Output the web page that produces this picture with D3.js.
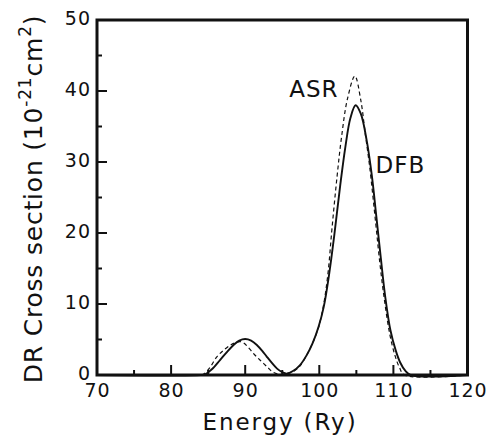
<!DOCTYPE html>
<html>
<head>
<meta charset="utf-8">
<script src="https://cdn.jsdelivr.net/npm/d3@7"></script>
<style>
  body { margin: 0; background: #fff; }
  text { font-family: "DejaVu Sans", sans-serif; fill: #111; }
</style>
</head>
<body>
<div id="chart"></div>
<script>
// Data (energy in Ry, cross section in 1e-21 cm^2)
const energyDFB = [70, 84, 84.6, 85.5, 86.6, 87.5, 88.4, 89.2, 90, 90.8, 91.6, 92.3, 92.9, 93.6, 94.3, 95, 95.6,
  96.5, 97.4, 98.3, 99.1, 99.9, 100.6, 101.3, 102.0, 102.8, 103.5, 104.2, 104.9, 105.6, 106.4, 107.1, 107.7,
  108.3, 108.9, 109.6, 110.3, 110.9, 111.6, 112.3, 120];
const crossDFB = [0, 0, 0.1, 0.8, 2.1, 3.2, 4.2, 4.85, 5.07, 4.85, 4.2, 3.4, 2.6, 1.7, 0.9, 0.4, 0.2,
  0.6, 1.4, 2.8, 4.5, 6.8, 9.6, 14.0, 19.5, 26.5, 32.0, 36.2, 38.0, 36.8, 33.0, 28.0, 22.3,
  16.5, 11.0, 6.3, 3.5, 1.8, 0.6, 0, 0];

const energyASR = [70, 84, 84.3, 85.2, 86.2, 87.1, 88, 88.7, 89.3, 89.8, 90.4, 91.1, 91.8, 92.5, 93.1, 93.6, 94.2,
  94.9, 95.6, 96.5, 97.4, 98.3, 99.1, 99.9, 100.6, 101.2, 101.7, 102.4, 103.0, 103.8, 104.8, 105.6, 106.2,
  106.8, 107.6, 108.2, 108.8, 109.5, 110.2, 110.8, 111.5, 120];
const crossASR = [0, 0, 0.05, 1.0, 2.6, 3.5, 4.2, 4.55, 4.7, 4.5, 3.9, 3.05, 2.3, 1.6, 1.0, 0.5, 0.2,
  0.1, 0.2, 0.5, 1.3, 2.8, 4.5, 6.7, 10.0, 14.6, 20.5, 28.0, 33.5, 38.9, 42.1, 38.7, 34.0,
  29.3, 21.5, 15.5, 10.5, 5.8, 2.8, 1.1, 0, 0];

const xMajor = [70, 80, 90, 100, 110, 120];
const xMinor = [75, 85, 95, 105, 115];
const yMajor = [0, 10, 20, 30, 40, 50];
const yMinor = [5, 15, 25, 35, 45];

const width = 493;
const height = 437;
const margin = { top: 20, right: 25.5, bottom: 62, left: 97 };

const svg = d3.select("#chart")
  .append("svg")
  .attr("width", width)
  .attr("height", height);

const x = d3.scaleLinear().domain([70, 120]).range([margin.left, width - margin.right]);
const y = d3.scaleLinear().domain([0, 50]).range([height - margin.bottom, margin.top]);

// Tick labels via d3 axes (tick lines drawn separately below)
svg.append("g")
  .attr("transform", `translate(0, ${y(0)})`)
  .call(d3.axisBottom(x).tickValues(xMajor).tickSize(0).tickPadding(9))
  .call((g) => g.select(".domain").remove())
  .call((g) => g.selectAll(".tick text")
    .attr("font-size", 19)
    .attr("letter-spacing", 1)
    .style("font-family", "DejaVu Sans")
    .attr("fill", "#111"));

svg.append("g")
  .attr("transform", `translate(${x(70)}, 0)`)
  .call(d3.axisLeft(y).tickValues(yMajor).tickSize(0).tickPadding(6))
  .call((g) => g.select(".domain").remove())
  .call((g) => g.selectAll(".tick text")
    .attr("font-size", 19)
    .attr("letter-spacing", 1)
    .attr("dy", "0.22em")
    .style("font-family", "DejaVu Sans")
    .attr("fill", "#111"));

// Curves
const line = d3.line()
  .x((d) => x(d[0]))
  .y((d) => y(d[1]))
  .curve(d3.curveCatmullRom.alpha(0.5));

svg.append("path")
  .datum(energyASR.map((e, i) => [e, crossASR[i]]))
  .attr("d", line)
  .attr("fill", "none")
  .attr("stroke", "#111")
  .attr("stroke-width", 1.2)
  .attr("stroke-dasharray", "4,3");

svg.append("path")
  .datum(energyDFB.map((e, i) => [e, crossDFB[i]]))
  .attr("d", line)
  .attr("fill", "none")
  .attr("stroke", "#111")
  .attr("stroke-width", 1.9);

// Frame
svg.append("rect")
  .attr("x", x(70))
  .attr("y", y(50))
  .attr("width", x(120) - x(70))
  .attr("height", y(0) - y(50))
  .attr("fill", "none")
  .attr("stroke", "#111")
  .attr("stroke-width", 3);

// Inside tick marks
const ticks = svg.append("g").attr("stroke", "#111").attr("stroke-width", 2);

ticks.selectAll(".xmaj").data(xMajor).join("line")
  .attr("x1", (d) => x(d)).attr("x2", (d) => x(d))
  .attr("y1", y(0)).attr("y2", y(0) - 10);
ticks.selectAll(".xmin").data(xMinor).join("line")
  .attr("x1", (d) => x(d)).attr("x2", (d) => x(d))
  .attr("y1", y(0)).attr("y2", y(0) - 5);
ticks.selectAll(".ymaj").data(yMajor).join("line")
  .attr("y1", (d) => y(d)).attr("y2", (d) => y(d))
  .attr("x1", x(70)).attr("x2", x(70) + 10);
ticks.selectAll(".ymin").data(yMinor).join("line")
  .attr("y1", (d) => y(d)).attr("y2", (d) => y(d))
  .attr("x1", x(70)).attr("x2", x(70) + 5);

// Curve labels
svg.append("text")
  .attr("x", x(102.6))
  .attr("y", y(39.2))
  .attr("text-anchor", "end")
  .attr("font-size", 23)
  .attr("letter-spacing", 1)
  .text("ASR");

svg.append("text")
  .attr("x", x(107.6))
  .attr("y", y(28.5))
  .attr("font-size", 23)
  .attr("letter-spacing", 1)
  .text("DFB");

// Axis titles
svg.append("text")
  .attr("x", 280)
  .attr("y", 430)
  .attr("text-anchor", "middle")
  .attr("font-size", 23)
  .attr("letter-spacing", 1.9)
  .text("Energy (Ry)");

const yTitle = svg.append("text")
  .attr("transform", "translate(42, 199) rotate(-90)")
  .attr("text-anchor", "middle")
  .attr("font-size", 25)
  .attr("letter-spacing", 0.8);
yTitle.append("tspan").text("DR Cross section (10");
yTitle.append("tspan").attr("font-size", 17).attr("dy", -11).text("-21");
yTitle.append("tspan").attr("dy", 11).text("cm");
yTitle.append("tspan").attr("font-size", 17).attr("dy", -11).text("2");
yTitle.append("tspan").attr("dy", 11).text(")");
</script>
</body>
</html>
